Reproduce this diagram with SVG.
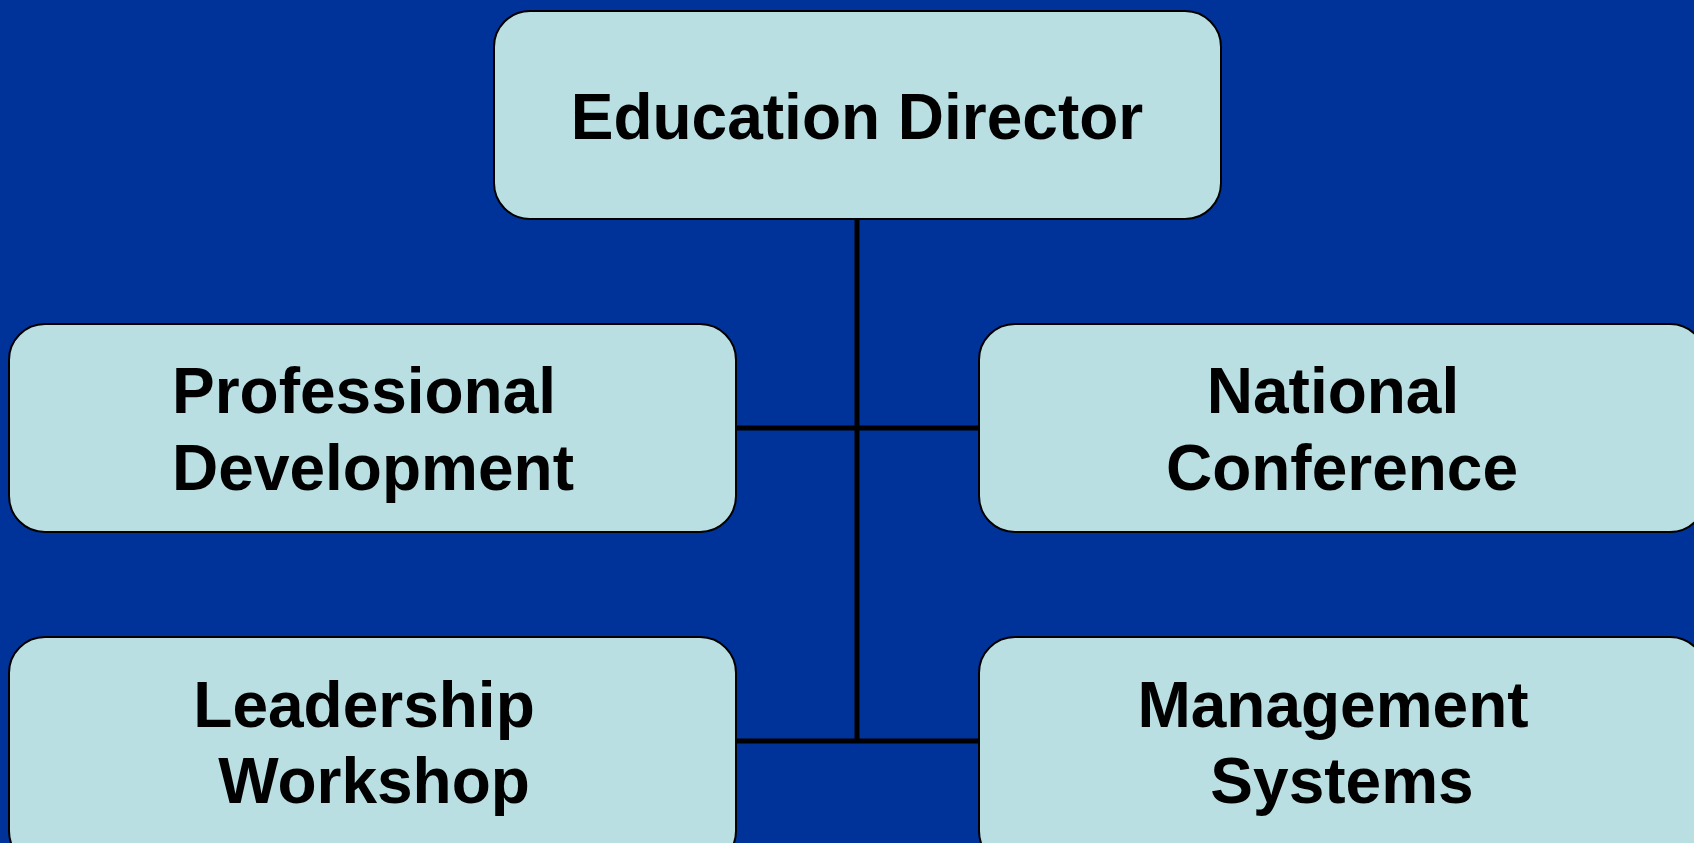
<svg xmlns="http://www.w3.org/2000/svg" width="1694" height="843" viewBox="0 0 1694 843">
  <style>
    .box { fill: #B9DFE3; stroke: #000000; stroke-width: 2; }
    .lbl { font-family: "Liberation Sans", Arial, sans-serif; font-weight: bold; font-size: 64px; fill: #000000; text-anchor: middle; }
    .conn { stroke: #000000; stroke-width: 5; fill: none; }
  </style>
  <rect x="0" y="0" width="1694" height="843" fill="#003399"/>
  <g id="connectors">
    <line class="conn" x1="857" y1="219" x2="857" y2="743"/>
    <line class="conn" x1="736" y1="428" x2="979" y2="428"/>
    <line class="conn" x1="736" y1="741" x2="979" y2="741"/>
  </g>
  <g id="education-director">
    <rect class="box" x="494" y="11" width="727" height="208" rx="36" ry="36"/>
    <text class="lbl" x="857" y="139">Education Director</text>
  </g>
  <g id="professional-development">
    <rect class="box" x="9" y="324" width="727" height="208" rx="36" ry="36"/>
    <text class="lbl" x="364" y="413">Professional</text>
    <text class="lbl" x="373" y="490">Development</text>
  </g>
  <g id="national-conference">
    <rect class="box" x="979" y="324" width="727" height="208" rx="36" ry="36"/>
    <text class="lbl" x="1333" y="413">National</text>
    <text class="lbl" x="1342" y="490">Conference</text>
  </g>
  <g id="leadership-workshop">
    <rect class="box" x="9" y="637" width="727" height="230" rx="36" ry="36"/>
    <text class="lbl" x="364" y="727">Leadership</text>
    <text class="lbl" x="374" y="803">Workshop</text>
  </g>
  <g id="management-systems">
    <rect class="box" x="979" y="637" width="727" height="230" rx="36" ry="36"/>
    <text class="lbl" x="1333" y="727">Management</text>
    <text class="lbl" x="1342" y="803">Systems</text>
  </g>
</svg>
